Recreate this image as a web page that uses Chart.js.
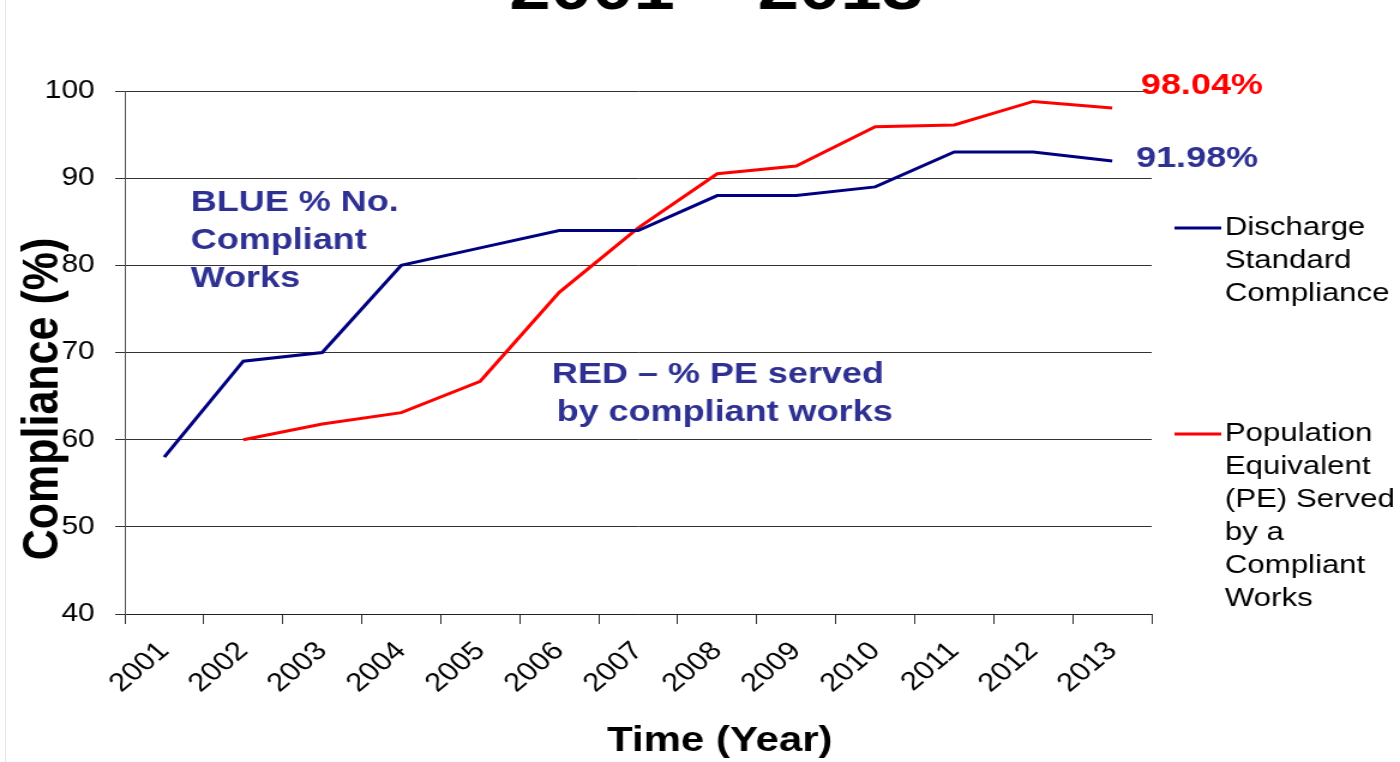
<!DOCTYPE html>
<html>
<head>
<meta charset="utf-8">
<script src="https://cdn.jsdelivr.net/npm/chart.js@4.4.1/dist/chart.umd.min.js"></script>
<style>
    html, body { margin: 0; padding: 0; background: #fff; overflow: hidden; }
    #wrap { position: relative; width: 1400px; height: 762px; }
    #edge { position: absolute; left: 5px; top: 0; width: 1px; height: 762px; background: #e4e4e4; }
    #chart { position: absolute; left: 0; top: 0; }
</style>
</head>
<body>
<div id="wrap">
    <div id="edge"></div>
    <!-- slide was stretched sideways, so the canvas is drawn narrow and widened by css -->
    <canvas id="chart" width="1167" height="762" style="width:1400px;height:762px"></canvas>
</div>
<script>
const years = ['2001', '2002', '2003', '2004', '2005', '2006', '2007', '2008', '2009', '2010', '2011', '2012', '2013'];
const dischargeCompliance = [58, 69, 70, 80, 82, 84, 84, 88, 88, 89, 93, 93, 91.98];
const peServed = [null, 60, 61.8, 63.1, 66.7, 76.9, 84.3, 90.5, 91.4, 95.9, 96.1, 98.8, 98.04];
const yMin = 40;
const yMax = 100;
const yStep = 10;

const titleText = '2001 – 2013';
const yTitle = 'Compliance (%)';
const xTitle = 'Time (Year)';
const blueNote = ['BLUE % No.', 'Compliant', 'Works'];
const redNote = ['RED – % PE served', 'by compliant works'];
const blueLegend = ['Discharge', 'Standard', 'Compliance'];
const redLegend = ['Population', 'Equivalent', '(PE) Served', 'by a', 'Compliant', 'Works'];
const lastBlue = '91.98%';
const lastRed = '98.04%';

const FONT = '"Liberation Sans", Arial, sans-serif';
const noteColor = '#2e3192';
const navy = '#000080';
const red = '#ff0000';

const overlay = {
    id: 'overlay',
    afterDraw(chart) {
        const ctx = chart.ctx;
        ctx.save();

        // big slide title, mostly cut off at the top
        ctx.fillStyle = '#000';
        ctx.font = 'bold 62px ' + FONT;
        ctx.textAlign = 'center';
        ctx.textBaseline = 'alphabetic';
        ctx.fillText(titleText, 597, 9);

        ctx.textBaseline = 'middle';

        // axis titles
        ctx.font = 'bold 35px ' + FONT;
        ctx.fillText(xTitle, 600, 741);
        ctx.save();
        ctx.translate(36, 399);
        ctx.rotate(-Math.PI / 2);
        ctx.font = 'bold 43px ' + FONT;
        ctx.fillText(yTitle, 0, 0);
        ctx.restore();

        // notes inside the plot
        ctx.textAlign = 'left';
        ctx.font = 'bold 30px ' + FONT;
        ctx.fillStyle = noteColor;
        blueNote.forEach((t, i) => ctx.fillText(t, 159, 203 + i * 38));
        ctx.fillText(redNote[0], 460, 375);
        ctx.fillText(redNote[1], 464, 413);
        ctx.fillText(lastBlue, 947, 159);
        ctx.fillStyle = red;
        ctx.fillText(lastRed, 951, 86);

        // legend on the right
        const ds = chart.data.datasets;
        const drawItem = (color, lines, y) => {
            ctx.strokeStyle = color;
            ctx.lineWidth = 3;
            ctx.beginPath();
            ctx.moveTo(979, y);
            ctx.lineTo(1018, y);
            ctx.stroke();
            ctx.fillStyle = '#000';
            ctx.font = '26px ' + FONT;
            lines.forEach((t, i) => ctx.fillText(t, 1021, y + i * 33));
        };
        drawItem(ds[0].borderColor, blueLegend, 228);
        drawItem(ds[1].borderColor, redLegend, 434);

        ctx.restore();
    }
};

const ctx = document.getElementById('chart').getContext('2d');

new Chart(ctx, {
    type: 'line',
    data: {
        labels: years,
        datasets: [
            {
                label: blueLegend.join(' '),
                data: dischargeCompliance,
                borderColor: navy,
                borderWidth: 3,
                pointRadius: 0,
                tension: 0,
                fill: false
            },
            {
                label: redLegend.join(' '),
                data: peServed,
                borderColor: red,
                borderWidth: 3,
                pointRadius: 0,
                tension: 0,
                fill: false
            }
        ]
    },
    options: {
        responsive: false,
        animation: false,
        layout: { padding: { top: 91, right: 207, bottom: 0, left: 0 } },
        plugins: {
            legend: { display: false },
            tooltip: { enabled: false },
            title: { display: false }
        },
        scales: {
            x: {
                offset: true,
                grid: { drawOnChartArea: false, drawTicks: true, tickLength: 10, color: '#333', offset: true },
                border: { display: true, color: '#222' },
                ticks: {
                    color: '#000',
                    font: { family: FONT, size: 26 },
                    minRotation: 45,
                    maxRotation: 45,
                    autoSkip: false,
                    padding: 12
                },
                afterFit(s) {
                    s.height = 148;
                    s.paddingLeft = 0;
                    s.paddingRight = 0;
                }
            },
            y: {
                min: yMin,
                max: yMax,
                ticks: {
                    stepSize: yStep,
                    color: '#000',
                    font: { family: FONT, size: 25 },
                    padding: 17
                },
                grid: { color: '#333', tickLength: 8, lineWidth: 1 },
                border: { display: true, color: '#555' },
                afterFit(s) {
                    s.width = 104;
                }
            }
        }
    },
    plugins: [overlay]
});
</script>
</body>
</html>
